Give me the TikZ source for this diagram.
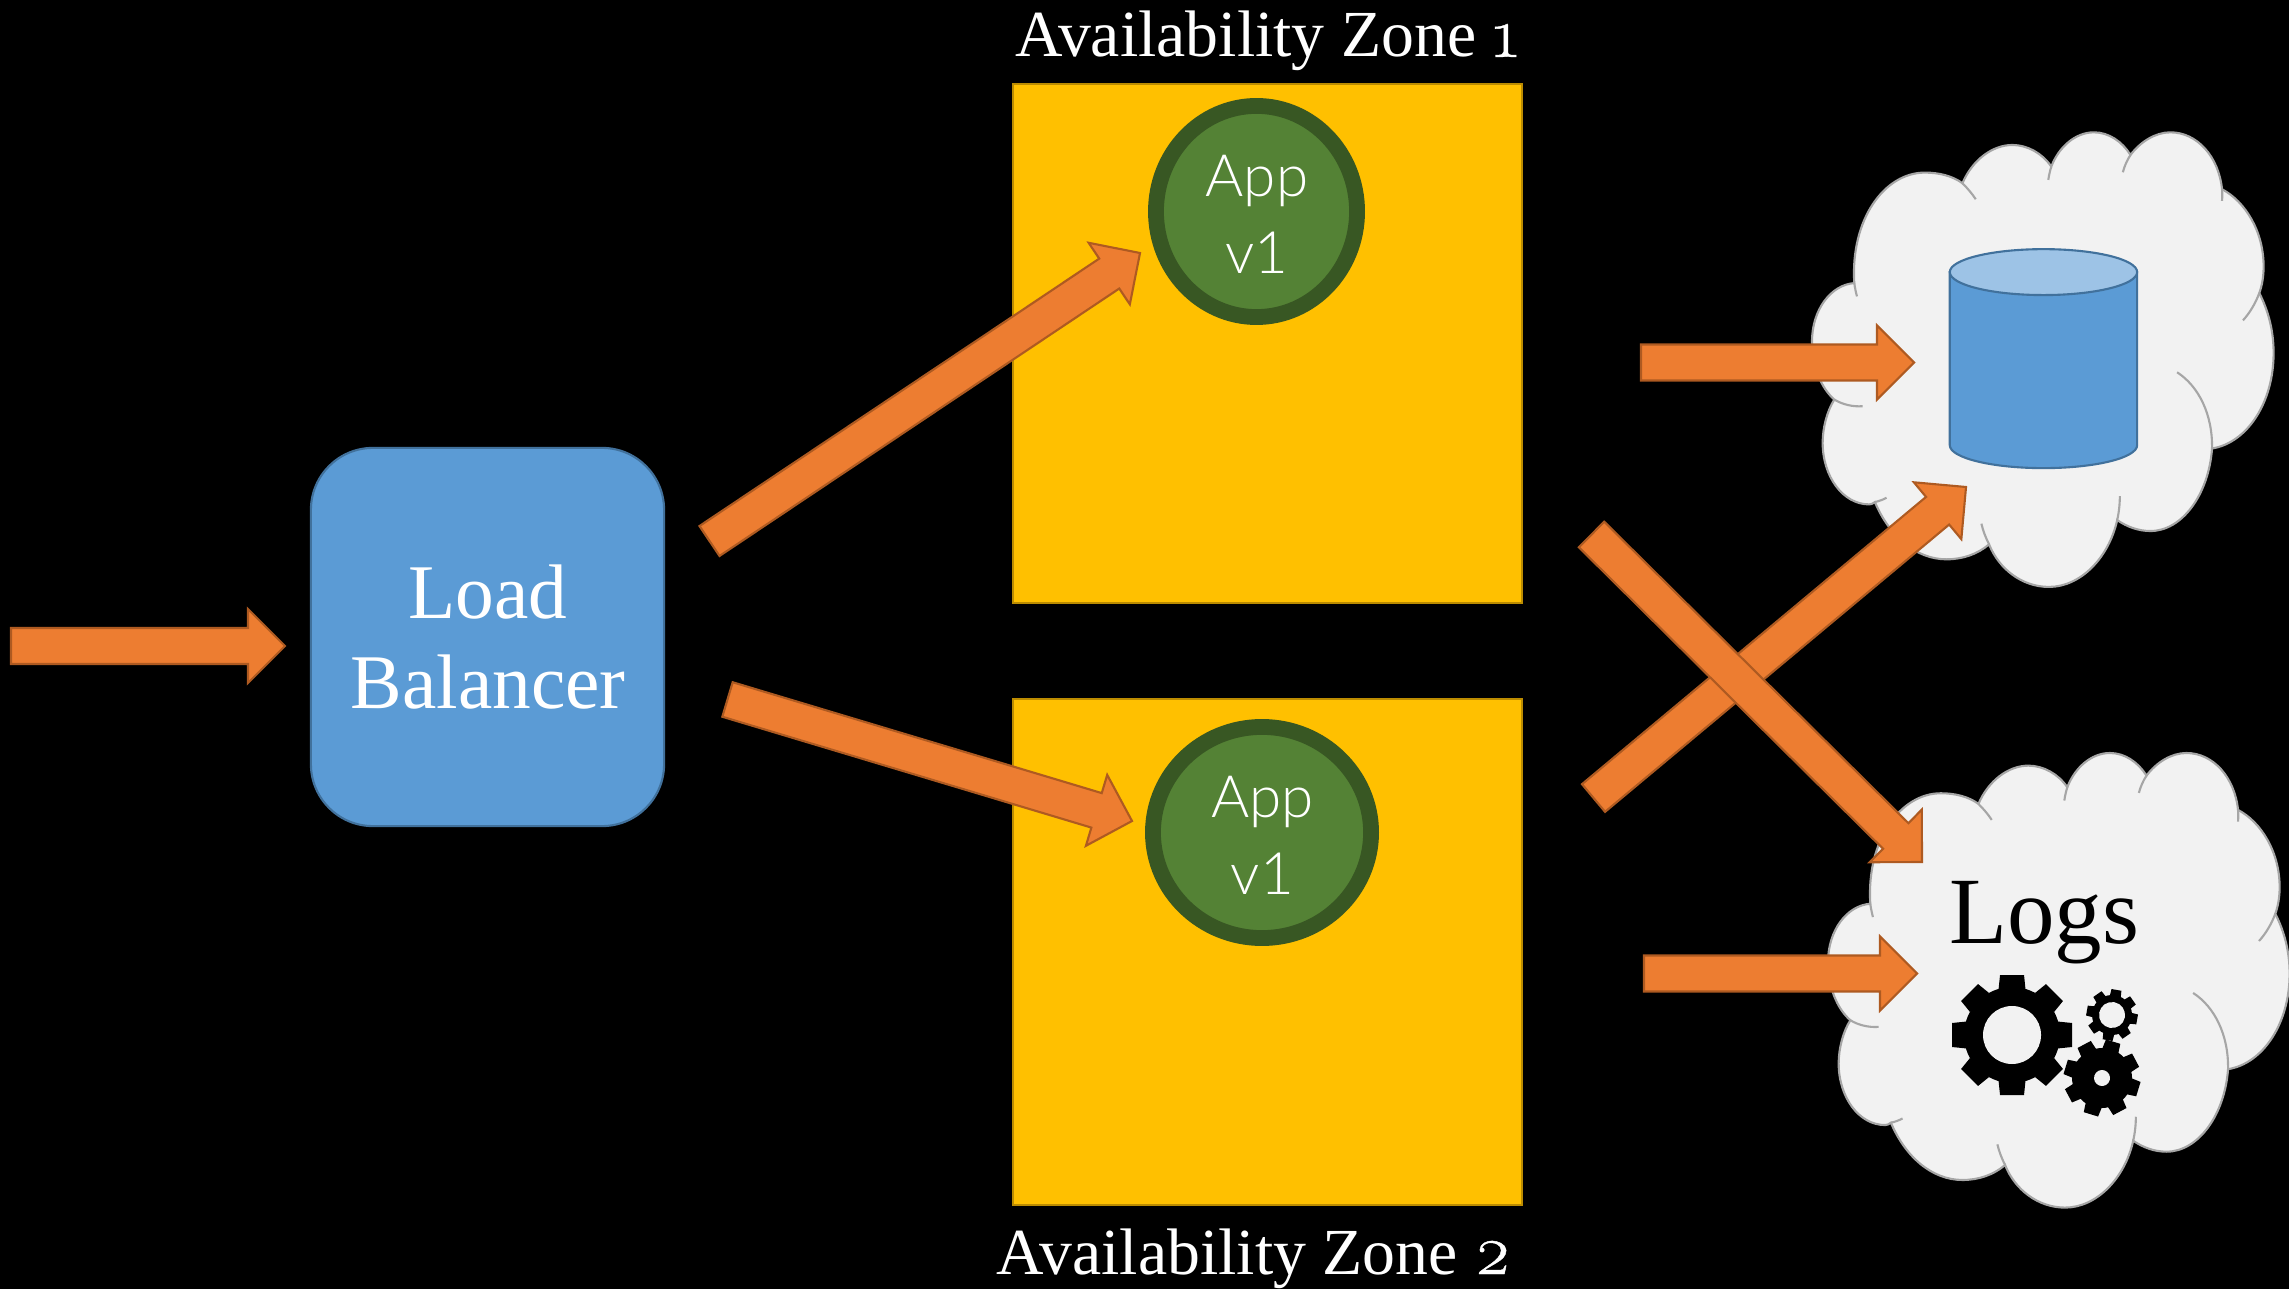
\documentclass[tikz,border=0pt]{standalone}
\usepackage{fontspec}
\usetikzlibrary{calc,shapes.geometric}
\setmainfont{Liberation Serif}
\newfontfamily\appfont{Lato Light}
\newfontfamily\numfont[Numbers=OldStyle,Scale=1.08,FakeBold=0.6]{Latin Modern Roman}
\definecolor{orangef}{HTML}{ED7D31}
\definecolor{oranged}{HTML}{AE5A21}
\definecolor{zonef}{HTML}{FFC000}
\definecolor{zoned}{HTML}{BC8C00}
\definecolor{greenf}{HTML}{548235}
\definecolor{greend}{HTML}{385723}
\definecolor{bluef}{HTML}{5B9BD5}
\definecolor{blued}{HTML}{41719C}
\definecolor{bluel}{HTML}{9DC3E6}
\definecolor{cloudf}{HTML}{F2F2F2}
\definecolor{cloudd}{HTML}{A6A6A6}
\tikzset{
  bigarrow/.style={draw=oranged,fill=orangef,line width=0.6pt,line join=miter},
  zonebox/.style={draw=zoned,fill=zonef,line width=0.6pt,minimum width=5.09cm,inner sep=0pt,outer sep=0pt},
  appcircle/.style={ellipse,draw=greend,fill=greenf,line width=4.5pt,inner sep=0pt,outer sep=0pt},
  apptext/.style={text=white,font=\appfont\fontsize{16.6}{21.9}\selectfont,align=center,inner sep=0pt},
  zonetext/.style={text=white,font=\fontsize{18.7}{22}\selectfont,anchor=base,inner sep=0pt},
  lbbox/.style={draw=blued,fill=bluef,line width=0.6pt,rounded corners=0.62cm,minimum width=3.53cm,minimum height=3.78cm,inner sep=0pt},
  lbtext/.style={text=white,font=\fontsize{22}{25.6}\selectfont,align=center,inner sep=0pt},
  cloudline/.style={draw=cloudd,line width=0.6pt},
  dbline/.style={draw=blued,line width=0.6pt},
  gearfill/.style={fill=black}
}
\newcommand\blockarrow[2]{%
  \coordinate (bb) at ($(#2)!0.37cm!(#1)$);
  \draw[bigarrow] ($(#1)!0.18cm!90:(#2)$) -- ($(bb)!0.18cm!90:(#2)$) -- ($(bb)!0.37cm!90:(#2)$)
    -- (#2) -- ($(bb)!0.37cm!-90:(#2)$) -- ($(bb)!0.18cm!-90:(#2)$) -- ($(#1)!0.18cm!-90:(#2)$) -- cycle;
}
\newcommand\cloudshape[2]{%
  \begin{scope}[xshift=#1cm,yshift=#2cm,x=0.0033333cm,y=-0.0033333cm]
  \fill[cloudf,cloudline] (220,550) .. controls (208,360) and (310,218) .. (432,218)
    .. controls (475,218) and (515,228) .. (545,250)
    .. controls (575,180) and (635,135) .. (695,135) .. controls (740,135) and (785,160) .. (812,200)
    .. controls (835,140) and (885,97) .. (940,97) .. controls (985,97) and (1025,125) .. (1050,165)
    .. controls (1080,125) and (1125,97) .. (1170,97) .. controls (1250,97) and (1315,170) .. (1325,268)
    .. controls (1395,305) and (1450,395) .. (1450,500) .. controls (1450,528) and (1446,555) .. (1437,580)
    .. controls (1465,635) and (1480,695) .. (1480,760) .. controls (1480,910) and (1400,1030) .. (1295,1047)
    .. controls (1285,1185) and (1205,1295) .. (1110,1295) .. controls (1075,1295) and (1040,1283) .. (1010,1262)
    .. controls (985,1375) and (900,1463) .. (805,1463) .. controls (725,1463) and (655,1410) .. (625,1335)
    .. controls (590,1365) and (545,1380) .. (497,1380) .. controls (405,1380) and (325,1310) .. (282,1208)
    .. controls (275,1213) and (270,1215) .. (265,1215) .. controls (185,1215) and (125,1130) .. (125,1030)
    .. controls (125,985) and (138,935) .. (160,900)
    .. controls (120,865) and (93,800) .. (93,725) .. controls (93,630) and (150,555) .. (220,550) -- cycle;
  \draw[cloudline] (220,550) .. controls (222,565) and (225,578) .. (228,590);
  \draw[cloudline] (545,250) .. controls (560,265) and (573,280) .. (585,298);
  \draw[cloudline] (812,200) .. controls (808,213) and (805,226) .. (803,240);
  \draw[cloudline] (1050,165) .. controls (1040,180) and (1032,198) .. (1027,217);
  \draw[cloudline] (1325,268) .. controls (1326,280) and (1326,291) .. (1325,303);
  \draw[cloudline] (1437,580) .. controls (1425,612) and (1408,640) .. (1388,662);
  \draw[cloudline] (1190,818) .. controls (1255,860) and (1297,945) .. (1295,1047);
  \draw[cloudline] (1018,1190) .. controls (1018,1215) and (1015,1240) .. (1010,1262);
  \draw[cloudline] (602,1273) .. controls (607,1295) and (615,1315) .. (625,1335);
  \draw[cloudline] (282,1208) .. controls (295,1205) and (306,1201) .. (317,1195);
  \draw[cloudline] (160,900) .. controls (185,915) and (215,922) .. (245,920);
  \end{scope}
}
% cx cy hole body outer halfwidth rotation
\newcommand\gearicon[7]{%
  \begin{scope}[shift={(#1,#2)},rotate=#7]
    \fill[gearfill] (0,0) circle[radius=#4];
    \foreach \a in {0,45,...,315}{
      \fill[gearfill,rotate=\a] (#4-2,-#6*1.12) -- (#5,-#6) -- (#5,#6) -- (#4-2,#6*1.12) -- cycle;
    }
    \fill[cloudf] (0,0) circle[radius=#3];
  \end{scope}
}
\begin{document}
\begin{tikzpicture}[x=0.01cm,y=-0.01cm]
\fill[black] (0,0) rectangle (2289,1289);
\useasboundingbox (0,0) rectangle (2289,1289);
% zones
\node[zonebox,minimum height=5.19cm] (zone1) at (1267.5,343.5) {};
\node[zonebox,minimum height=5.06cm] (zone2) at (1267.5,952) {};
\node[zonetext] (zone1label) at (1267,57) {Availability Zone {\numfont 1}};
\node[zonetext] (zone2label) at (1254,1274) {Availability Zone {\numfont 2}};
% app circles
\node[appcircle,minimum width=2.01cm,minimum height=2.11cm] (app1) at (1256.5,211.5) {};
\node[appcircle,minimum width=2.18cm,minimum height=2.11cm] (app2) at (1262,832.5) {};
\node[apptext] (app1text) at (1257,214) {App\\v1};
\node[apptext] (app2text) at (1262.5,835) {App\\v1};
% load balancer
\node[lbbox] (lb) at (487.5,637) {};
\node[lbtext] (lbtext) at (488,637) {Load\\Balancer};
% clouds
\cloudshape{17.8}{-1}
\cloudshape{17.96}{-7.203}
% database
\begin{scope}[xshift=17.8cm,yshift=-1cm,x=0.0033333cm,y=-0.0033333cm]
  \draw[dbline,fill=bluef] (507,517) -- (507,1037) arc[start angle=180,end angle=360,x radius=281.5,y radius=-69] -- (1070,517) -- cycle;
  \draw[dbline,fill=bluel] (788.5,517) ellipse[x radius=281.5,y radius=69];
\end{scope}
% logs
\node[anchor=base,inner sep=0pt,text=black,font=\fontsize{27}{30}\selectfont] (logs) at (2044,943) {Logs};
\gearicon{2012}{1035}{29}{48}{60}{12}{0}
\gearicon{2112}{1015}{13}{20}{25.5}{5}{-10}
\gearicon{2102}{1078}{8}{30}{38}{7.5}{-17}
% block arrows
\coordinate (inA) at (11,646);
\coordinate (inB) at (285,646);
\coordinate (upA) at (709.5,541);
\coordinate (upB) at (1140,253);
\coordinate (dnA) at (727.5,699.5);
\coordinate (dnB) at (1132,821);
\coordinate (dbA) at (1641,362.5);
\coordinate (dbB) at (1914,362.5);
\coordinate (lgA) at (1644,973.5);
\coordinate (lgB) at (1917,973.5);
\coordinate (xbA) at (1593.5,798);
\coordinate (xbB) at (1966,487);
\coordinate (xaA) at (1591.5,534.5);
\coordinate (xaB) at (1922,862);
\blockarrow{inA}{inB}
\blockarrow{upA}{upB}
\blockarrow{dnA}{dnB}
\blockarrow{dbA}{dbB}
\blockarrow{lgA}{lgB}
\blockarrow{xbA}{xbB}
\blockarrow{xaA}{xaB}
\end{tikzpicture}
\end{document}
